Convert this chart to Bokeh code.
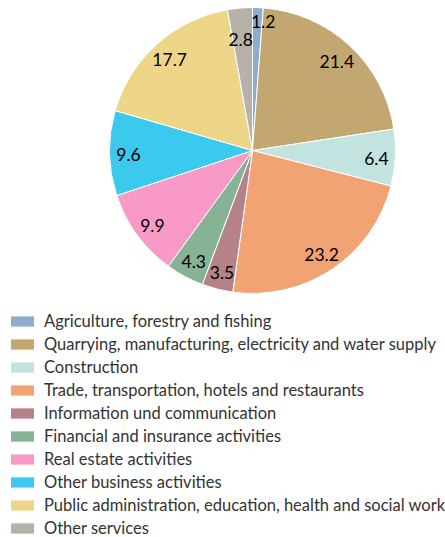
import numpy as np
from bokeh.plotting import figure
from bokeh.models import Range1d, Legend, LegendItem, ColumnDataSource
from bokeh.embed import file_html
from bokeh.resources import INLINE
from bokeh.core.properties import value

categories = [
    "Agriculture, forestry and fishing",
    "Quarrying, manufacturing, electricity and water supply",
    "Construction",
    "Trade, transportation, hotels and restaurants",
    "Information und communication",
    "Financial and insurance activities",
    "Real estate activities",
    "Other business activities",
    "Public administration, education, health and social work",
    "Other services",
]
shares = [1.2, 21.4, 6.4, 23.2, 3.5, 4.3, 9.9, 9.6, 17.7, 2.8]
colors = ["#8eaccd", "#c2a770", "#c3e3e0", "#f2a374", "#b5828a",
          "#86b296", "#f99ac6", "#3bc9ee", "#eed689", "#b5b2aa"]

FONT = "Lato"
W, H = 445, 537
# data units == screen pixels (y negated)
p = figure(width=W, height=H, output_backend="svg", toolbar_location=None,
           x_range=Range1d(0, W), y_range=Range1d(-H, 0),
           min_border=0, outline_line_color=None)
p.axis.visible = False
p.grid.visible = False
p.background_fill_color = "white"
p.border_fill_color = "white"

cx, cy, R = 252, -150, 143
vals = np.array(shares)
frac = vals / vals.sum()
cum_end = np.cumsum(frac)
cum_start = cum_end - frac
start_ang = np.pi / 2 - 2 * np.pi * cum_end
end_ang = np.pi / 2 - 2 * np.pi * cum_start
mid_ang = (start_ang + end_ang) / 2

items = []
for i, cat in enumerate(categories):
    r = p.wedge(x=cx, y=cy, radius=R, start_angle=start_ang[i], end_angle=end_ang[i],
                fill_color=colors[i], line_color="white", line_width=1)
    items.append(LegendItem(label=cat, renderers=[r]))

# label placement: centred on radius, small slices pushed apart
lr = 124
lx = cx + lr * np.cos(mid_ang)
ly = cy + lr * np.sin(mid_ang) - 1.5
nudge = {0: (6, 7), 9: (-1, -11)}
for k, (dx, dy) in nudge.items():
    lx[k] += dx
    ly[k] += dy
src = ColumnDataSource(dict(x=lx, y=ly, t=[f"{v:.1f}" for v in shares]))
p.text(x="x", y="y", text="t", source=src, text_align="center", text_baseline="middle",
       text_font=value(FONT), text_font_size="17.5px", text_color="#000000",
       text_font_style="normal")

legend = Legend(items=items, location=(7, -1), orientation="vertical",
                glyph_width=30, glyph_height=14, label_standoff=7,
                label_text_font=FONT, label_text_font_size="16.5px",
                label_text_color="#333333", label_height=21, spacing=2,
                padding=0, margin=0, border_line_color=None,
                background_fill_alpha=0)
p.add_layout(legend, "center")

open("out.html", "w").write(file_html(p, INLINE))
